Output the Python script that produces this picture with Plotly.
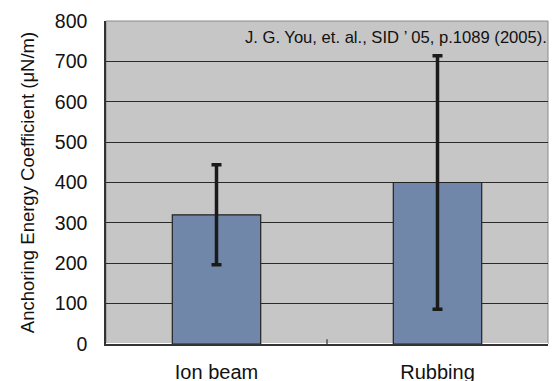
import plotly.graph_objects as go

categories = ["Ion beam", "Rubbing"]
values = [320, 400]
errors = [124, 314]
y_ticks = [0, 100, 200, 300, 400, 500, 600, 700, 800]
note = "J. G. You, et. al., SID ’ 05, p.1089 (2005)."

fig = go.Figure()
fig.add_trace(go.Bar(
    x=categories, y=values, width=0.4,
    marker=dict(color="#7087a9", line=dict(color="#222222", width=1.2)),
    error_y=dict(type="data", array=errors, visible=True, color="#1a1a1a",
                 thickness=3.5, width=5),
))

# page body has an 8px margin, so the figure is sized/offset to compensate
fig.update_layout(
    width=550, height=373,
    margin=dict(l=98, r=10, t=13, b=37, autoexpand=False),
    paper_bgcolor="white", plot_bgcolor="#c6c6c6",
    showlegend=False,
    font=dict(family="Liberation Sans, Arial, sans-serif", color="#111111"),
    xaxis=dict(showline=True, linecolor="#333333", linewidth=1.5,
               tickfont=dict(size=20), ticks="outside", ticklen=9,
               tickcolor="rgba(0,0,0,0)", showgrid=False, automargin=False,
               mirror=False, range=[-0.5, 1.5]),
    yaxis=dict(range=[0, 800], tickvals=y_ticks, showline=True,
               linecolor="#333333", linewidth=1.5, automargin=False,
               gridcolor="#2a2a2a", gridwidth=1, tickfont=dict(size=19.5),
               ticks="outside", ticklen=13, tickcolor="rgba(0,0,0,0)",
               title=dict(text="Anchoring Energy Coefficient (μN/m)",
                          font=dict(size=18.5), standoff=15)),
)
fig.add_shape(type="rect", xref="paper", yref="paper", x0=0, x1=1, y0=0, y1=1,
              line=dict(color="#8a8a8a", width=1), layer="below")
fig.add_shape(type="line", xref="x", yref="paper", x0=0.5, x1=0.5, y0=0, y1=0.015,
              line=dict(color="#333333", width=1.2))
fig.add_annotation(text=note, xref="paper", yref="paper", x=0.31, y=0.948,
                   xanchor="left", yanchor="middle", showarrow=False,
                   font=dict(size=16.6, color="#111111"))
fig.write_html("out.html")
